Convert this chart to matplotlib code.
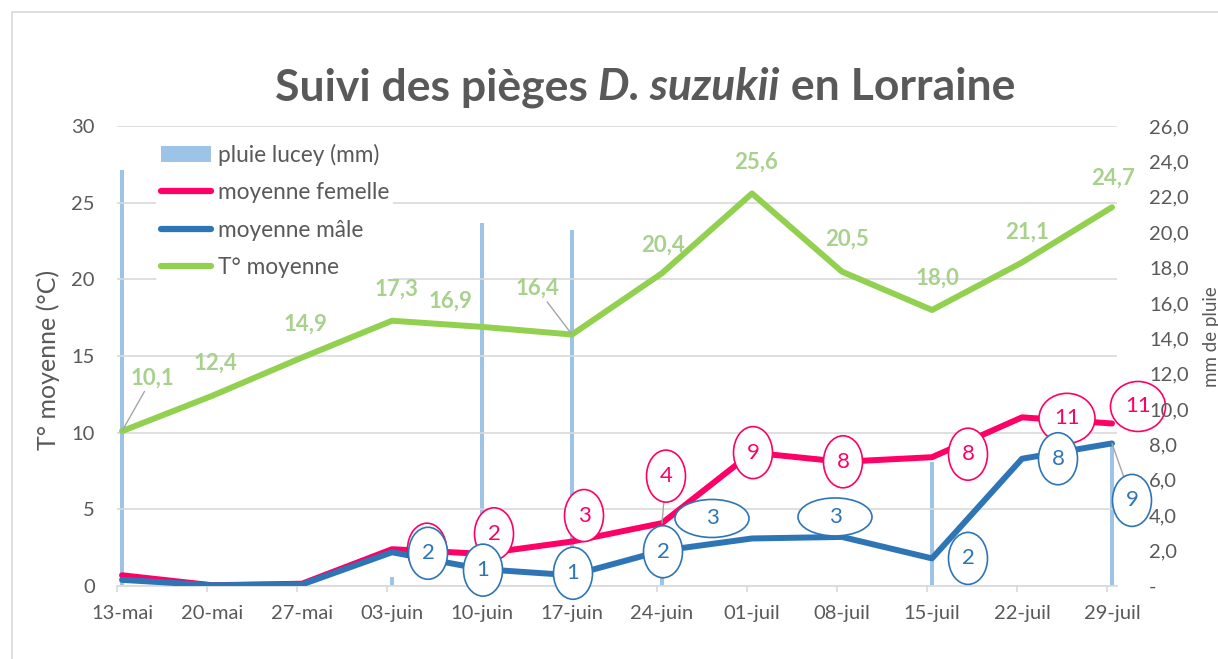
import matplotlib
matplotlib.use("Agg")
import matplotlib.pyplot as plt
from matplotlib.patches import Ellipse, Rectangle
from matplotlib.lines import Line2D
from matplotlib.transforms import Affine2D, ScaledTranslation
import numpy as np

plt.rcParams['font.family'] = ['Lato', 'DejaVu Sans']

# données
dates = ["13-mai", "20-mai", "27-mai", "03-juin", "10-juin", "17-juin",
         "24-juin", "01-juil", "08-juil", "15-juil", "22-juil", "29-juil"]
pluie = [23.5, 0, 0, 0.5, 20.5, 20.1, 0.5, 0, 0, 7.0, 0, 8.0]
femelle = [0.7, 0.05, 0.15, 2.4, 2.1, 2.9, 4.1, 8.7, 8.1, 8.4, 11.0, 10.6]
male = [0.4, 0.05, 0.1, 2.2, 1.1, 0.7, 2.3, 3.1, 3.2, 1.8, 8.3, 9.3]
temp = [10.1, 12.4, 14.9, 17.3, 16.9, 16.4, 20.4, 25.6, 20.5, 18.0, 21.1, 24.7]

# placement des etiquettes (pixels)
temp_off = [(30, 53), (3, 33), (3, 33), (4, 32), (-32, 26), (-35, 46),
            (1, 28), (4, 31), (5, 32), (5, 32), (5, 30), (1, 29)]
temp_leader = [0, 5]
fem_idx = [3, 4, 5, 6, 7, 8, 9, 10, 11]
fem_off = [(35, 0), (12, 20), (12, 26), (4, 47), (1, 0), (1, 0), (36, 3), (45, -1), (26, 17)]
fem_size = [(39, 52)] * 7 + [(56, 50), (55, 50)]
fem_leader = [6]
male_idx = [3, 4, 5, 6, 7, 8, 9, 10, 11]
male_off = [(36, -1), (1, -1), (1, 2), (1, -1), (-40, 20), (-7, 20), (36, 0), (36, 0), (20, -57)]
male_size = [(39, 52)] * 4 + [(74, 38), (74, 38)] + [(39, 52)] * 3
male_leader = [11]

gris = '#595959'
grille = '#d9d9d9'
c_pluie = '#9dc3e6'
c_fem = '#ff0066'
c_male = '#2e75b6'
c_temp = '#92d050'
c_temp_lab = '#a9d18e'

W, H = 1218, 659
fig = plt.figure(figsize=(W / 100, H / 100), dpi=100, facecolor='white')
ax = fig.add_axes([117 / W, 73 / H, 1000 / W, 460 / H])
ax2 = ax.twinx()
ax3 = ax.twinx()
ax2.set_zorder(0)
ax.set_zorder(1)
ax3.set_zorder(2)
ax.patch.set_visible(False)

x = np.arange(len(dates))

bars = ax2.bar(x, pluie, width=0.05, color=c_pluie, label='pluie lucey (mm)')
ax.plot(x, femelle, color=c_fem, lw=4.3, solid_capstyle='round', solid_joinstyle='round', zorder=3)
ax.plot(x, male, color=c_male, lw=4.3, solid_capstyle='round', solid_joinstyle='round', zorder=3.1)
ax.plot(x, temp, color=c_temp, lw=4.3, solid_capstyle='round', solid_joinstyle='round', zorder=3.2)

ax.set_xlim(-0.0556, 11.0556)
ax.set_ylim(0, 30)
ax2.set_ylim(0, 26)
ax3.set_ylim(0, 26)

for a in (ax, ax2, ax3):
    for s in a.spines.values():
        s.set_visible(False)
ax.spines['bottom'].set_visible(True)
ax.spines['bottom'].set_color(grille)
ax.spines['bottom'].set_linewidth(1.2)

ax.set_yticks(range(0, 31, 5))
ax.grid(axis='y', color=grille, lw=1.2)
ax.set_axisbelow(True)
ax.tick_params(axis='y', length=0, pad=16, labelsize=14.5, labelcolor=gris)
ax.set_xticks(x, dates)
ax.set_xticks(x - 0.0556, minor=True)
ax.tick_params(axis='x', which='major', length=0, pad=14, labelsize=14.5, labelcolor=gris)
ax.tick_params(axis='x', which='minor', length=4, width=1.2, color=grille, direction='out')

ax2.tick_params(right=False, labelright=False)
yt = list(range(0, 27, 2))
ax3.set_yticks(yt, ["-" if v == 0 else f"{v},0" for v in yt])
ax3.tick_params(axis='y', length=0, pad=23, labelsize=14.5, labelcolor=gris)

fig.text(48 / W, 1 - 360 / H, "T° moyenne (°C)", rotation=90, ha='center', va='center',
         fontsize=18, color=gris)
fig.text(1211 / W, 1 - 337 / H, "mm de pluie", rotation=90, ha='center', va='center',
         fontsize=13.5, color=gris)

# etiquettes temperature
for i, v in enumerate(temp):
    dx, dy = temp_off[i]
    kw = {}
    if i in temp_leader:
        kw['arrowprops'] = dict(arrowstyle='-', color='#a6a6a6', lw=1, shrinkA=0, shrinkB=1)
    ax.annotate(f"{v:.1f}".replace('.', ','), (x[i], v), xytext=(dx, dy),
                textcoords='offset pixels', ha='center', va='center', fontsize=16,
                fontweight='bold', color=c_temp_lab, zorder=4, annotation_clip=False, **kw)


def bulles(serie, idx, off, size, leader, col, z):
    for k, i in enumerate(idx):
        dx, dy = off[k]
        w, h = size[k]
        v = serie[i]
        tr = Affine2D().translate(dx, dy) + ScaledTranslation(x[i], v, ax.transData)
        e = Ellipse((0, 0), w, h, transform=tr, facecolor='white', edgecolor=col,
                    lw=1.2, zorder=z, clip_on=False)
        ax.add_patch(e)
        if i in leader:
            ax.annotate('', (x[i], v), xytext=(dx, dy), textcoords='offset pixels',
                        arrowprops=dict(arrowstyle='-', color='#a6a6a6', lw=1,
                                        shrinkA=0, shrinkB=0), zorder=z - 0.05)
        ax.annotate(f"{v:.0f}", (x[i], v), xytext=(dx, dy), textcoords='offset pixels',
                    ha='center', va='center', fontsize=16, color=col, zorder=z + 0.01,
                    annotation_clip=False)


bulles(femelle, fem_idx, fem_off, fem_size, fem_leader, c_fem, 5)
bulles(male, male_idx, male_off, male_size, male_leader, c_male, 6)

handles = [bars,
           Line2D([], [], color=c_fem, lw=4.5, solid_capstyle='round'),
           Line2D([], [], color=c_male, lw=4.5, solid_capstyle='round'),
           Line2D([], [], color=c_temp, lw=4.5, solid_capstyle='round')]
labels = ['pluie lucey (mm)', 'moyenne femelle', 'moyenne mâle', 'T° moyenne']
leg = ax.legend(handles, labels, loc='upper left', bbox_to_anchor=(0.039, 0.971),
                borderaxespad=0, frameon=True, fontsize=16.3, labelcolor=gris,
                handlelength=2.25, handletextpad=0.27, labelspacing=0.72, borderpad=0.2)
leg.get_frame().set_edgecolor('none')
leg.get_frame().set_facecolor('white')
leg.get_frame().set_alpha(1)
leg.set_zorder(3.9)

# titre en trois morceaux (italique pour l'espece)
parts = [("Suivi des pièges ", 'normal'), ("D. suzukii", 'italic'), (" en Lorraine", 'normal')]
r = fig.canvas.get_renderer()
xt = 0
txts = []
for s, st in parts:
    t = fig.text(xt, 1 - 100 / H, s, fontsize=32, fontweight='bold', style=st,
                 color=gris, ha='left', va='baseline')
    bb = t.get_window_extent(r)
    txts.append(t)
    xt += bb.width / W
start = 645 / W - xt / 2
pos = start
for t in txts:
    bb = t.get_window_extent(r)
    t.set_x(pos)
    pos += bb.width / W

fig.patches.append(Rectangle((12 / W, -0.1), 1.2, 1.1 - 12 / H, transform=fig.transFigure,
                             fill=False, edgecolor=grille, lw=1.2))

fig.savefig("out.png", dpi=100, facecolor='white')
